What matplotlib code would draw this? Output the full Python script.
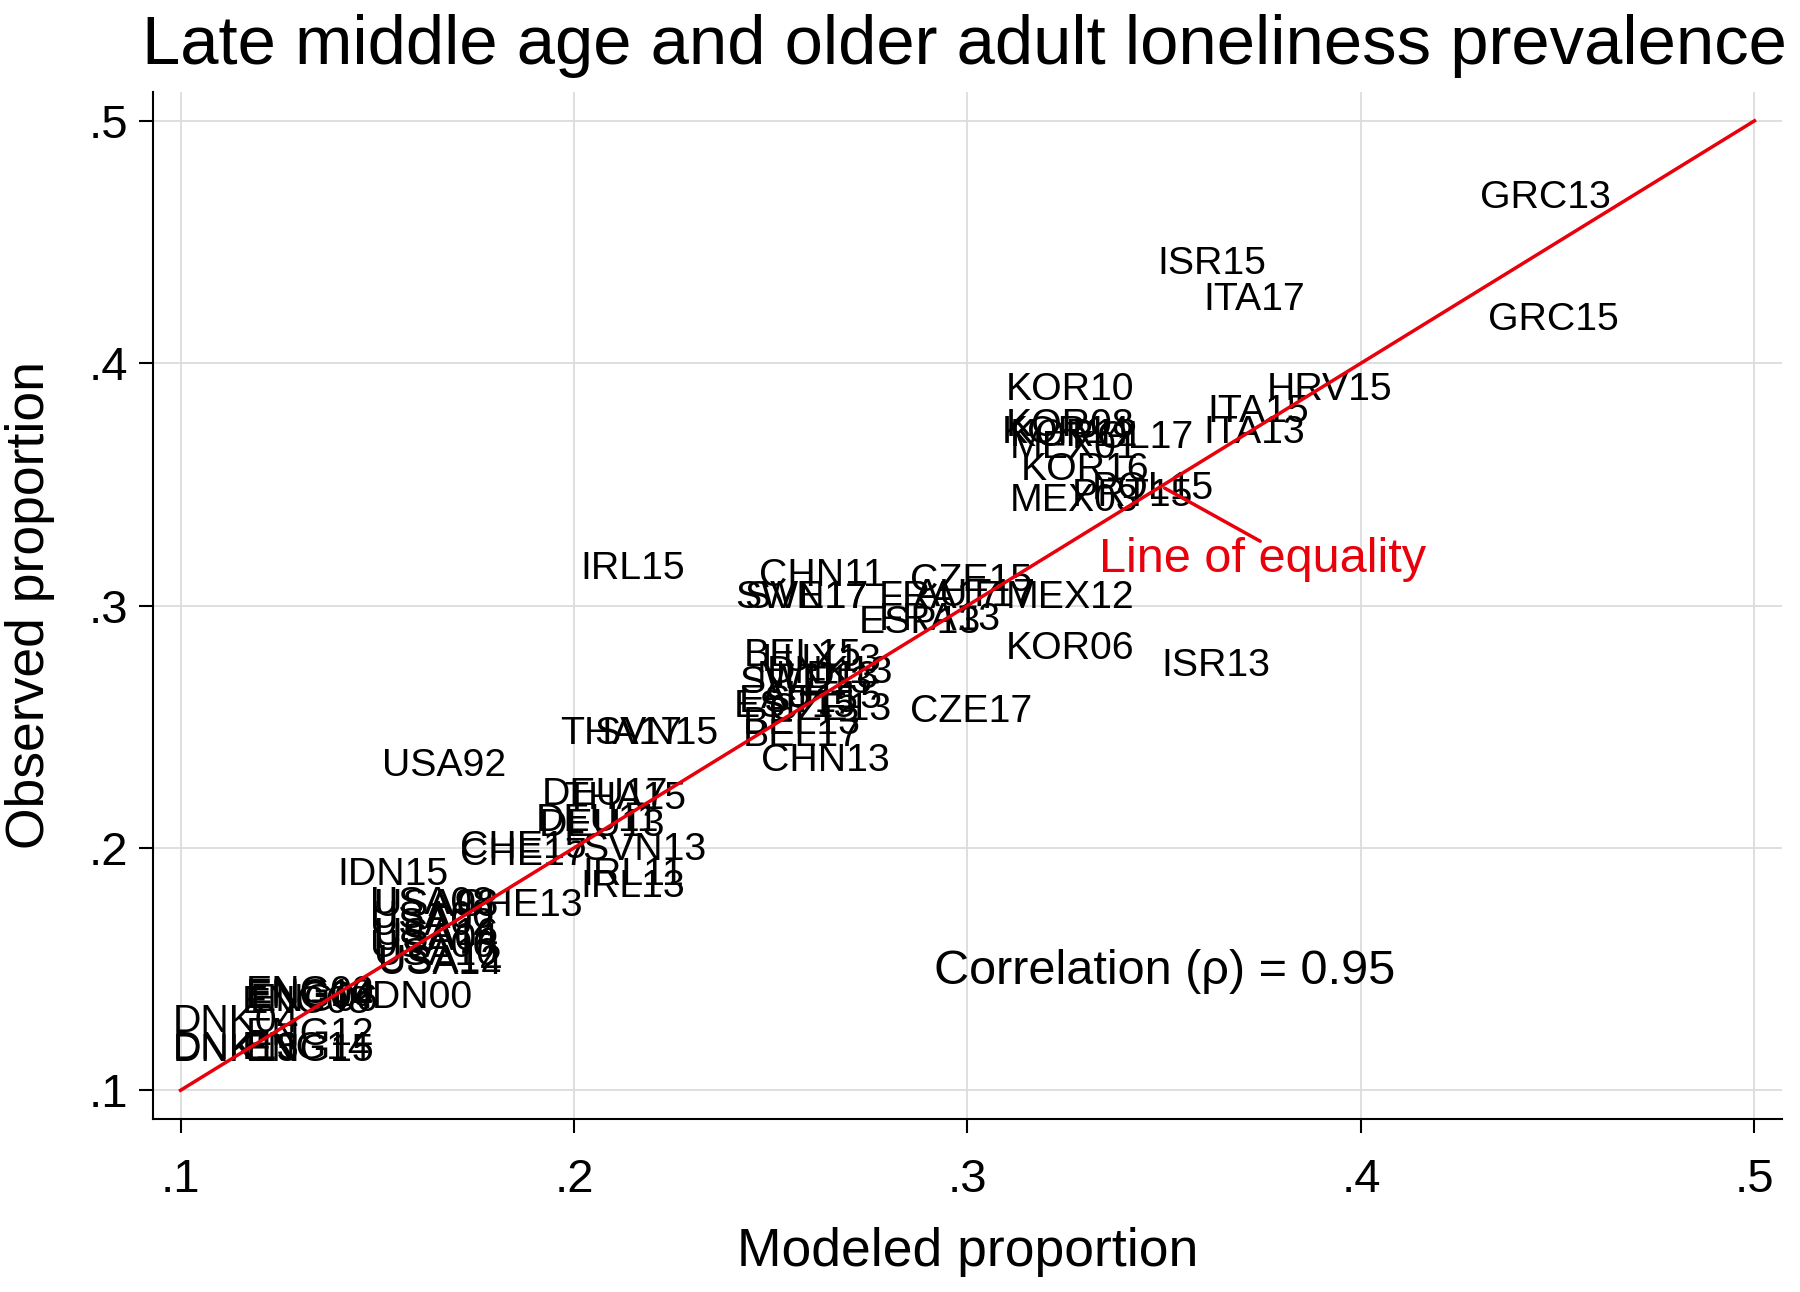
import matplotlib
matplotlib.use("Agg")
import matplotlib.pyplot as plt
from matplotlib.ticker import FuncFormatter

plt.rcParams['font.family'] = ['Liberation Sans', 'DejaVu Sans']

# Study-wave labels with modeled (x) and observed (y) proportions
labels = [
    "GRC13", "GRC15", "ISR15", "ITA17", "HRV15", "ITA15", "ITA13",
    "KOR10", "KOR08", "KOR14", "KOR12", "POL17", "MEX01", "KOR16", "MEX03", "POL15", "PRT15",
    "IRL15", "CHN11", "CZE15", "SWE17", "SVN17", "FRA17", "AUT17", "MEX12",
    "ESP13", "FRA13", "KOR06", "ISR13",
    "BEL15", "LUX13", "DNK13", "NLD13", "SWE13", "AUT15", "ESP15", "EST15", "CZE13",
    "BEL13", "BEL17", "CZE17", "CHN13",
    "THA17", "SVN15", "USA92", "DEU17", "THA15", "DEU13", "DEU11",
    "CHE15", "CHE17", "SVN13", "IRL11", "IRL13", "IDN15", "USA08", "CHE13",
    "USA98", "USA00", "USA02", "USA16", "USA04", "USA06", "USA10", "USA12", "USA14",
    "IDN00", "ENG02", "ENG04", "ENG06", "ENG08", "ENG10",
    "DNK04", "ENG12", "DNK13", "DNK15", "ENG15", "ENG14",
]
modeled = [
    0.447, 0.449, 0.362, 0.373, 0.392, 0.374, 0.373,
    0.326, 0.326, 0.325, 0.327, 0.342, 0.327, 0.330, 0.327, 0.347, 0.342,
    0.215, 0.263, 0.301, 0.258, 0.259, 0.293, 0.302, 0.326,
    0.288, 0.293, 0.326, 0.363,
    0.258, 0.263, 0.265, 0.262, 0.259, 0.263, 0.256, 0.257, 0.265,
    0.258, 0.258, 0.301, 0.264,
    0.212, 0.221, 0.167, 0.208, 0.213, 0.207, 0.206,
    0.187, 0.187, 0.218, 0.215, 0.215, 0.154, 0.164, 0.186,
    0.165, 0.164, 0.164, 0.165, 0.165, 0.164, 0.165, 0.166, 0.166,
    0.160, 0.133, 0.133, 0.134, 0.132, 0.133,
    0.114, 0.133, 0.114, 0.114, 0.133, 0.132,
]
observed = [
    0.468, 0.418, 0.441, 0.426, 0.389, 0.380, 0.371,
    0.389, 0.374, 0.371, 0.370, 0.369, 0.365, 0.356, 0.343, 0.348, 0.345,
    0.315, 0.312, 0.310, 0.303, 0.303, 0.303, 0.304, 0.303,
    0.293, 0.294, 0.282, 0.275,
    0.279, 0.277, 0.272, 0.270, 0.268, 0.262, 0.258, 0.260, 0.257,
    0.251, 0.246, 0.256, 0.236,
    0.247, 0.247, 0.234, 0.222, 0.220, 0.209, 0.211,
    0.200, 0.197, 0.199, 0.189, 0.184, 0.189, 0.177, 0.176,
    0.176, 0.171, 0.168, 0.164, 0.162, 0.159, 0.156, 0.153, 0.152,
    0.138, 0.140, 0.138, 0.137, 0.136, 0.139,
    0.128, 0.123, 0.117, 0.116, 0.116, 0.117,
]
ticks = [0.1, 0.2, 0.3, 0.4, 0.5]
correlation = 0.95

fig = plt.figure(figsize=(18, 12.92), dpi=100)
ax = fig.add_axes([0.085, 0.134, 0.905, 0.795])

for lab, xv, yv in zip(labels, modeled, observed):
    ax.text(xv, yv, lab, ha='center', va='center', fontsize=28.3, color='black')

ax.plot([0.1, 0.5], [0.1, 0.5], color='#e8000b', lw=2.5, zorder=3)
ax.annotate("", xy=(0.3495, 0.349), xytext=(0.375, 0.326),
            arrowprops=dict(arrowstyle='-', color='#e8000b', lw=2.5))
ax.text(0.375, 0.319, "Line of equality", color='#e8000b', fontsize=35, ha='center', va='center')
ax.text(0.350, 0.1488, f"Correlation (\u03c1) = {correlation:.2f}", fontsize=35, ha='center', va='center')

ax.set_xlim(0.093, 0.507)
ax.set_ylim(0.0882, 0.512)
ax.set_xticks(ticks)
ax.set_yticks(ticks)
fmt = FuncFormatter(lambda v, p: f"{v:.1f}".lstrip("0"))
ax.xaxis.set_major_formatter(fmt)
ax.yaxis.set_major_formatter(fmt)
ax.tick_params(axis='both', labelsize=34, length=10, width=1.5, direction='out')
ax.tick_params(axis='x', pad=18)
ax.tick_params(axis='y', pad=8)
ax.grid(True, color='#dcdcdc', lw=1.3, zorder=0)
ax.set_axisbelow(True)
for s in ['top', 'right']:
    ax.spines[s].set_visible(False)
for s in ['left', 'bottom']:
    ax.spines[s].set_linewidth(1.5)

ax.set_xlabel("Modeled proportion", fontsize=38.5, labelpad=18)
ax.set_ylabel("Observed proportion", fontsize=38.5, labelpad=24)
fig.text(0.536, 1 - 46 / 1292, "Late middle age and older adult loneliness prevalence",
         fontsize=49.6, ha='center', va='center')

fig.savefig("out.png", dpi=100, facecolor='white')
